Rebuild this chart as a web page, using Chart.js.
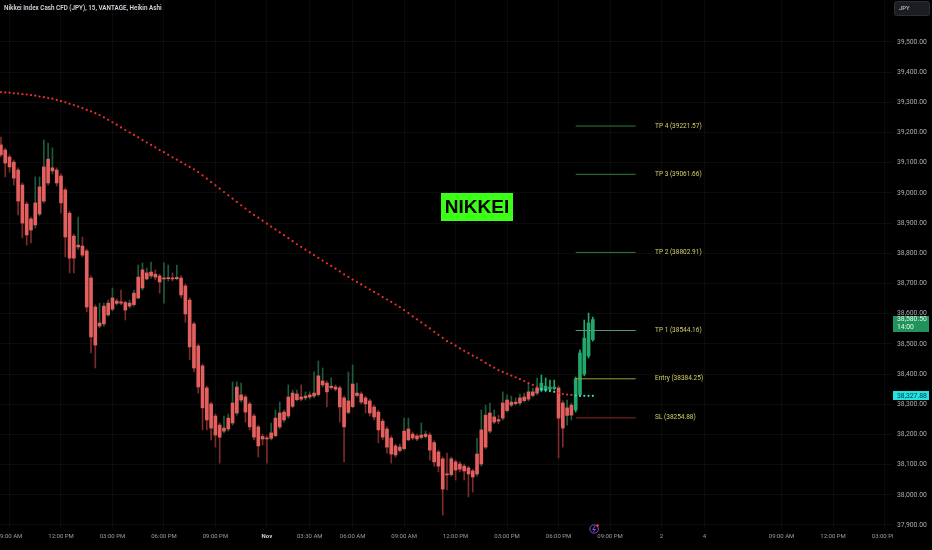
<!DOCTYPE html>
<html>
<head>
<meta charset="utf-8">
<script src="https://cdn.jsdelivr.net/npm/chart.js"></script>
<style>
  html, body { margin: 0; padding: 0; background: #000; }
  canvas { display: block; }
</style>
</head>
<body>
<canvas id="chart" width="932" height="550" style="width:932px;height:550px"></canvas>
<script>
// Heikin Ashi bars, 15 min, one entry per bar
var open = [
  39159, 39142, 39119, 39102, 39076, 39026, 38963, 38914, 38894, 38930,
  38973, 39033, 39073, 39076, 39056, 39010, 38933, 38857, 38821, 38824,
  38808, 38718, 38622, 38559, 38566, 38596, 38615, 38634, 38639, 38637,
  38625, 38630, 38652, 38685, 38715, 38725, 38731, 38725, 38715, 38716,
  38717, 38716, 38718, 38692, 38645, 38566, 38493, 38427, 38354, 38301,
  38261, 38231, 38211, 38218, 38238, 38271, 38314, 38324, 38301, 38261,
  38225, 38193, 38188, 38187, 38196, 38225, 38248, 38261, 38293, 38315,
  38324, 38321, 38324, 38327, 38332, 38364, 38370, 38355, 38357, 38354,
  38321, 38273, 38292, 38329, 38334, 38321, 38311, 38291, 38274, 38244,
  38218, 38188, 38162, 38147, 38153, 38182, 38201, 38195, 38190, 38193,
  38198, 38173, 38142, 38119, 38069, 38067, 38109, 38102, 38095, 38089,
  38079, 38069, 38102, 38158, 38211, 38241, 38249, 38254, 38279, 38297,
  38302, 38304, 38312, 38317, 38329, 38337, 38346, 38347, 38350, 38352,
  38354, 38304, 38263, 38264, 38281, 38332, 38400, 38460, 38514
];
var high = [
  39185, 39149, 39126, 39109, 39083, 39033, 38970, 38920, 39053, 39053,
  39175, 39165, 39149, 39083, 39063, 39016, 38940, 38864, 38920, 38854,
  38814, 38725, 38629, 38635, 38635, 38645, 38685, 38649, 38678, 38642,
  38645, 38678, 38761, 38768, 38751, 38771, 38745, 38731, 38768, 38761,
  38735, 38761, 38725, 38698, 38652, 38572, 38500, 38433, 38360, 38307,
  38268, 38238, 38261, 38268, 38374, 38374, 38370, 38331, 38307, 38268,
  38231, 38201, 38195, 38238, 38281, 38307, 38281, 38364, 38347, 38347,
  38364, 38341, 38341, 38407, 38443, 38420, 38377, 38387, 38364, 38360,
  38327, 38407, 38430, 38370, 38341, 38327, 38317, 38297, 38281, 38251,
  38225, 38195, 38168, 38168, 38254, 38254, 38208, 38201, 38238, 38211,
  38205, 38179, 38148, 38125, 38138, 38125, 38115, 38109, 38102, 38095,
  38085, 38188, 38281, 38297, 38304, 38281, 38264, 38341, 38331, 38327,
  38321, 38334, 38337, 38370, 38354, 38387, 38397, 38387, 38380, 38380,
  38360, 38311, 38314, 38304, 38390, 38480, 38579, 38602, 38589
];
var low = [
  39119, 39053, 39069, 39026, 38927, 38851, 38827, 38834, 38884, 38924,
  38967, 39026, 39063, 39023, 38933, 38788, 38735, 38735, 38814, 38788,
  38606, 38470, 38420, 38553, 38559, 38592, 38609, 38629, 38629, 38579,
  38619, 38625, 38649, 38678, 38712, 38718, 38712, 38668, 38635, 38708,
  38708, 38712, 38652, 38572, 38447, 38407, 38337, 38215, 38215, 38182,
  38158, 38105, 38205, 38211, 38231, 38264, 38307, 38241, 38215, 38182,
  38125, 38165, 38105, 38182, 38191, 38218, 38241, 38254, 38288, 38311,
  38311, 38314, 38317, 38321, 38327, 38357, 38291, 38350, 38344, 38241,
  38109, 38268, 38288, 38324, 38301, 38271, 38261, 38248, 38172, 38182,
  38138, 38105, 38125, 38142, 38148, 38179, 38182, 38179, 38185, 38188,
  38115, 38095, 38076, 37933, 38016, 38062, 38049, 38076, 38049, 37993,
  38009, 38062, 38095, 38152, 38205, 38235, 38235, 38248, 38274, 38291,
  38297, 38297, 38307, 38311, 38324, 38331, 38341, 38341, 38344, 38347,
  38122, 38158, 38231, 38248, 38274, 38327, 38394, 38453, 38509
];
var close = [
  39126, 39099, 39086, 39049, 38973, 38900, 38861, 38877, 38967, 39020,
  39086, 39112, 39083, 39033, 38967, 38854, 38784, 38784, 38827, 38794,
  38622, 38523, 38496, 38569, 38625, 38635, 38652, 38642, 38635, 38612,
  38635, 38668, 38721, 38745, 38735, 38738, 38721, 38705, 38718, 38719,
  38715, 38720, 38662, 38599, 38490, 38420, 38357, 38288, 38248, 38221,
  38198, 38191, 38221, 38254, 38304, 38357, 38331, 38274, 38225, 38191,
  38162, 38185, 38185, 38205, 38254, 38271, 38274, 38324, 38337, 38334,
  38317, 38327, 38331, 38337, 38394, 38377, 38341, 38360, 38350, 38291,
  38225, 38311, 38367, 38337, 38307, 38301, 38271, 38258, 38215, 38191,
  38158, 38135, 38132, 38158, 38211, 38218, 38188, 38185, 38198, 38201,
  38148, 38109, 38095, 38019, 38066, 38119, 38082, 38085, 38079, 38069,
  38059, 38135, 38215, 38264, 38271, 38258, 38244, 38304, 38314, 38307,
  38307, 38321, 38324, 38341, 38341, 38354, 38370, 38360, 38357, 38357,
  38254, 38221, 38288, 38297, 38384, 38470, 38519, 38569, 38580.5
];
// dotted trend line, one dot per bar
var trend = [
  39334, 39333, 39332, 39330, 39329, 39327, 39326, 39324, 39322, 39319,
  39317, 39314, 39312, 39308, 39304, 39300, 39295, 39291, 39286, 39281,
  39275, 39270, 39264, 39258, 39250, 39242, 39234, 39226, 39217, 39208,
  39200, 39192, 39184, 39175, 39167, 39159, 39151, 39142, 39135, 39126,
  39118, 39110, 39102, 39094, 39086, 39078, 39069, 39058, 39047, 39036,
  39025, 39014, 39003, 38992, 38981, 38970, 38959, 38948, 38937, 38927,
  38918, 38908, 38898, 38888, 38879, 38869, 38860, 38850, 38840, 38830,
  38821, 38812, 38803, 38794, 38785, 38776, 38767, 38758, 38749, 38740,
  38730, 38722, 38713, 38705, 38697, 38688, 38680, 38672, 38664, 38655,
  38647, 38639, 38630, 38622, 38612, 38602, 38591, 38581, 38571, 38561,
  38551, 38540, 38530, 38520, 38509, 38502, 38494, 38485, 38477, 38469,
  38461, 38454, 38446, 38437, 38429, 38421, 38413, 38407, 38401, 38395,
  38389, 38383, 38377, 38370, 38364, 38357, 38350, 38347, 38344, 38341,
  38337, 38334, 38332, 38331, 38329, 38328, 38328, 38328, 38327.88
];

var timeTicks = [2, 14, 26, 38, 50, 62, 72, 82, 94, 106, 118, 130, 142, 154, 164, 182, 194, 206];
var timeLabels = ['09:00 AM', '12:00 PM', '03:00 PM', '06:00 PM', '09:00 PM', 'Nov', '03:30 AM', '06:00 AM',
  '09:00 AM', '12:00 PM', '03:00 PM', '06:00 PM', '09:00 PM', '2', '4', '09:00 AM', '12:00 PM', '03:00 PM'];
var priceTicks = [37900, 38000, 38100, 38200, 38300, 38400, 38500, 38600, 38700, 38800,
  38900, 39000, 39100, 39200, 39300, 39400, 39500];

var levelNames = ['TP 4', 'TP 3', 'TP 2', 'TP 1', 'Entry', 'SL'];
var levelValues = [39221.57, 39061.66, 38802.91, 38544.16, 38384.25, 38254.88];

var RED = '#e3605f';
var GREEN = '#22a86a';
var WICK_UP = '#1d5c3b';
var WICK_DN = '#7d2a2a';
var DOT_RED = '#f0302c';
var CYAN = '#2fe6d8';
var LEVEL_COLORS = ['#2f7d3c', '#2f7d3c', '#2f7d3c', '#5a9680', '#9c9c3a', '#8e2a2a'];
var FONT = 'Roboto, "Liberation Sans", sans-serif';

function isAbove(i) { return close[i] > trend[i]; }

var idx = open.map(function (_, i) { return i; });

var levelDatasets = levelValues.map(function (v, k) {
  return {
    type: 'line',
    data: [{ x: 134, y: v }, { x: 148, y: v }],
    borderColor: LEVEL_COLORS[k],
    borderWidth: 1,
    pointRadius: 0,
    order: 1
  };
});

var clipTimeAxis = {
  id: 'clipTimeAxis',
  beforeDraw: function (chart) {
    var sc = chart.scales.x;
    chart.ctx.save();
    chart.ctx.fillStyle = '#000';
    chart.ctx.fillRect(0, 0, chart.width, chart.height);
    chart.ctx.restore();
    if (sc._clipped) return;
    var orig = sc.drawLabels.bind(sc);
    sc.drawLabels = function (area) {
      var c = chart.ctx;
      c.save();
      c.beginPath();
      c.rect(0, sc.top, chart.chartArea.right, sc.height);
      c.clip();
      orig(area);
      c.restore();
    };
    sc._clipped = true;
  }
};

var overlays = {
  id: 'overlays',
  afterDatasetsDraw: function (chart) {
    var ctx = chart.ctx, x = chart.scales.x, y = chart.scales.y;
    ctx.save();
    ctx.font = '6.5px ' + FONT;
    ctx.fillStyle = '#d2d26a';
    ctx.textBaseline = 'middle';
    ctx.textAlign = 'left';
    levelValues.forEach(function (v, k) {
      ctx.fillText(levelNames[k] + ' (' + v.toFixed(2) + ')', x.getPixelForValue(152.5), y.getPixelForValue(v));
    });

    // NIKKEI badge
    ctx.font = 'bold 19px "Liberation Sans", Arial, sans-serif';
    var cx = x.getPixelForValue(111), cy = y.getPixelForValue(38953);
    var w = ctx.measureText('NIKKEI').width + 8;
    ctx.fillStyle = '#3cff17';
    ctx.fillRect(Math.round(cx - w / 2), Math.round(cy - 14), Math.round(w), 28);
    ctx.fillStyle = '#000';
    ctx.textAlign = 'center';
    ctx.fillText('NIKKEI', cx, cy + 1);
    ctx.restore();
  },
  afterDraw: function (chart) {
    var ctx = chart.ctx, x = chart.scales.x, y = chart.scales.y;
    var ax = chart.chartArea.right;
    ctx.save();
    ctx.textBaseline = 'middle';
    ctx.textAlign = 'left';

    ctx.font = '600 6.3px ' + FONT;
    ctx.fillStyle = '#d1d4dc';
    ctx.fillText('Nikkei Index Cash CFD (JPY), 15, VANTAGE, Heikin Ashi', 4, 8);

    // currency button
    ctx.fillStyle = '#1b1d22';
    ctx.strokeStyle = '#2c2f36';
    ctx.lineWidth = 1;
    ctx.beginPath();
    ctx.roundRect(894.5, 1.5, 35, 14, 2);
    ctx.fill();
    ctx.stroke();
    ctx.font = '6px ' + FONT;
    ctx.fillStyle = '#d1d4dc';
    ctx.fillText('JPY', 899, 8.5);

    // last price tag
    var lp = close[close.length - 1];
    var py = y.getPixelForValue(lp);
    ctx.fillStyle = '#21935a';
    ctx.fillRect(ax, Math.round(py - 4), 36, 16);
    ctx.fillStyle = '#e2f5ea';
    ctx.font = '6.8px ' + FONT;
    ctx.fillText(lp.toLocaleString('en-US', { minimumFractionDigits: 2 }), ax + 4, py);
    ctx.fillText('14:00', ax + 4, py + 7.5);

    // trend value tag
    var tv = trend[trend.length - 1];
    var ty = y.getPixelForValue(tv);
    ctx.fillStyle = '#22e3e3';
    ctx.fillRect(ax, Math.round(ty - 4.5), 36, 9);
    ctx.fillStyle = '#0c2c3c';
    ctx.fillText(tv.toLocaleString('en-US', { minimumFractionDigits: 2 }), ax + 4, ty + 0.5);

    // event marker on the time axis
    var ex = x.getPixelForValue(138.3), ey = chart.chartArea.bottom + 1;
    ctx.strokeStyle = '#8a4fd0';
    ctx.lineWidth = 1;
    ctx.beginPath();
    ctx.arc(ex, ey, 4.2, 0, Math.PI * 2);
    ctx.stroke();
    ctx.beginPath();
    ctx.moveTo(ex + 1, ey - 3);
    ctx.lineTo(ex - 1.5, ey + 0.5);
    ctx.lineTo(ex + 1.5, ey + 0.5);
    ctx.lineTo(ex - 1, ey + 3);
    ctx.stroke();
    ctx.fillStyle = '#e0443c';
    ctx.beginPath();
    ctx.arc(ex + 3.5, ey - 3.5, 1.3, 0, Math.PI * 2);
    ctx.fill();
    ctx.restore();
  }
};

new Chart(document.getElementById('chart').getContext('2d'), {
  type: 'bar',
  data: {
    datasets: [
      {
        label: 'wicks',
        data: idx.map(function (i) { return { x: i, y: [low[i], high[i]] }; }),
        barThickness: 1,
        grouped: false,
        minBarLength: 1,
        backgroundColor: function (c) {
          var i = c.dataIndex;
          if (i === undefined) return WICK_DN;
          if (isAbove(i)) return GREEN;
          return close[i] >= open[i] ? WICK_UP : WICK_DN;
        },
        order: 5
      },
      {
        label: 'bodies',
        data: idx.map(function (i) { return { x: i, y: [open[i], close[i]] }; }),
        barThickness: 3,
        grouped: false,
        minBarLength: 1,
        backgroundColor: function (c) {
          var i = c.dataIndex;
          if (i === undefined) return RED;
          return isAbove(i) ? GREEN : RED;
        },
        order: 4
      },
      {
        type: 'line',
        label: 'trend',
        data: idx.map(function (i) { return { x: i, y: trend[i] }; }),
        showLine: false,
        pointRadius: 1.1,
        pointBorderWidth: 0,
        pointBackgroundColor: function (c) {
          var i = c.dataIndex;
          if (i === undefined) return DOT_RED;
          return isAbove(i) ? CYAN : DOT_RED;
        },
        order: 3
      }
    ].concat(levelDatasets)
  },
  options: {
    responsive: false,
    animation: false,
    events: [],
    layout: { padding: 0, autoPadding: false },
    plugins: { legend: { display: false }, tooltip: { enabled: false }, title: { display: false } },
    scales: {
      x: {
        type: 'linear',
        offset: false,
        min: -0.2215,
        max: 207.98,
        afterBuildTicks: function (s) { s.ticks = timeTicks.map(function (v) { return { value: v }; }); },
        afterFit: function (s) { s.height = 22; s.paddingLeft = 0; s.paddingRight = 0; },
        ticks: {
          autoSkip: false,
          maxRotation: 0,
          padding: 5,
          callback: function (v, k) { return timeLabels[k]; },
          color: function (c) { return c.index === 5 ? '#d1d4dc' : '#9b9ea6'; },
          font: function (c) { return { family: FONT, size: 6, weight: c.index === 5 ? 'bold' : 'normal' }; }
        },
        grid: { color: 'rgba(255,255,255,0.045)', drawTicks: false, offset: false },
        border: { display: false }
      },
      y: {
        position: 'right',
        min: 37890.06,
        max: 39639.0,
        afterBuildTicks: function (s) { s.ticks = priceTicks.map(function (v) { return { value: v }; }); },
        afterFit: function (s) { s.width = 39; s.paddingTop = 0; s.paddingBottom = 0; },
        ticks: {
          padding: 4,
          color: '#a9acb4',
          font: { family: FONT, size: 6.8 },
          callback: function (v) { return v.toLocaleString('en-US', { minimumFractionDigits: 2, maximumFractionDigits: 2 }); }
        },
        grid: { color: 'rgba(255,255,255,0.045)', drawTicks: false },
        border: { display: false }
      }
    }
  },
  plugins: [clipTimeAxis, overlays]
});
</script>
</body>
</html>
